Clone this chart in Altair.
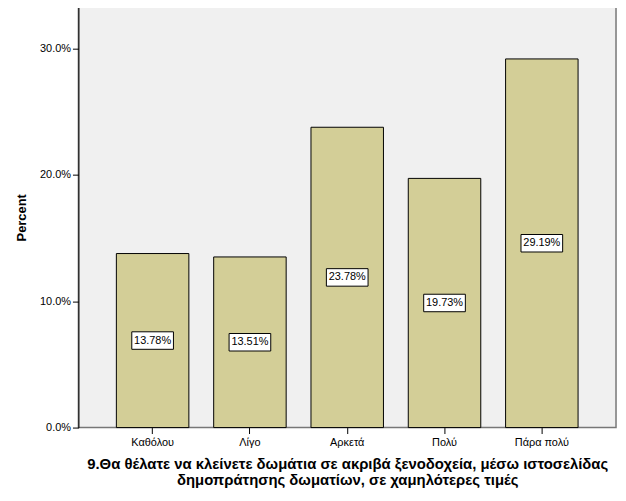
import altair as alt
import pandas as pd

categories = ["Καθόλου", "Λίγο", "Αρκετά", "Πολύ", "Πάρα πολύ"]
percents = [13.78, 13.51, 23.78, 19.73, 29.19]
labels = ["13.78%", "13.51%", "23.78%", "19.73%", "29.19%"]
y_ticks = [0, 10, 20, 30]

df = pd.DataFrame({"cat": categories, "pct": percents, "label": labels})
df["mid"] = df["pct"] / 2

FONT = "Liberation Sans"

x_enc = alt.X(
    "cat:N",
    sort=categories,
    scale=alt.Scale(paddingInner=0.255, paddingOuter=0.39),
    axis=alt.Axis(
        title=["9.Θα θέλατε να κλείνετε δωμάτια σε ακριβά ξενοδοχεία, μέσω ιστοσελίδας",
               "δημοπράτησης  δωματίων, σε χαμηλότερες τιμές"],
        titleFont=FONT, titleFontSize=15, titleFontWeight="bold", titleColor="black",
        titlePadding=9, titleLineHeight=16,
        labelAngle=0, labelFont=FONT, labelFontSize=11, labelColor="black",
        labelPadding=3,
        tickColor="black", tickSize=6, domain=False,
    ),
)

y_scale = alt.Scale(domain=[0, 33.3], nice=False)

bars = alt.Chart(df).mark_bar(color="#D3CE97", stroke="black", strokeWidth=1).encode(
    x=x_enc,
    y=alt.Y(
        "pct:Q",
        scale=y_scale,
        axis=alt.Axis(
            title="Percent", titleFont=FONT, titleFontSize=13, titleFontWeight="bold",
            titleColor="black", titlePadding=11,
            values=y_ticks, labelExpr="format(datum.value, '.1f') + '%'",
            labelFont=FONT, labelFontSize=11, labelColor="black",
            tickColor="black", tickSize=6, domainColor="black", grid=False,
        ),
    ),
)

boxes = alt.Chart(df).mark_point(
    shape="M-1,-0.42L1,-0.42L1,0.42L-1,0.42Z", size=1764, filled=True,
    fill="white", stroke="black", strokeWidth=1, opacity=1,
).encode(
    x=alt.X("cat:N", sort=categories),
    y=alt.Y("mid:Q", scale=y_scale),
)

texts = alt.Chart(df).mark_text(font=FONT, fontSize=11, color="black").encode(
    x=alt.X("cat:N", sort=categories),
    y=alt.Y("mid:Q", scale=y_scale),
    text="label:N",
)

chart = alt.layer(bars, boxes, texts).properties(
    width=542, height=424,
    autosize=alt.AutoSizeParams(type="none"),
    padding={"left": 71, "top": -3, "right": 2, "bottom": 70},
    background="white",
).configure_view(
    fill="#F0F0F0", stroke="#777777", strokeWidth=1.5,
)

chart.save("out.html", embed_options={"renderer": "svg", "actions": False})
